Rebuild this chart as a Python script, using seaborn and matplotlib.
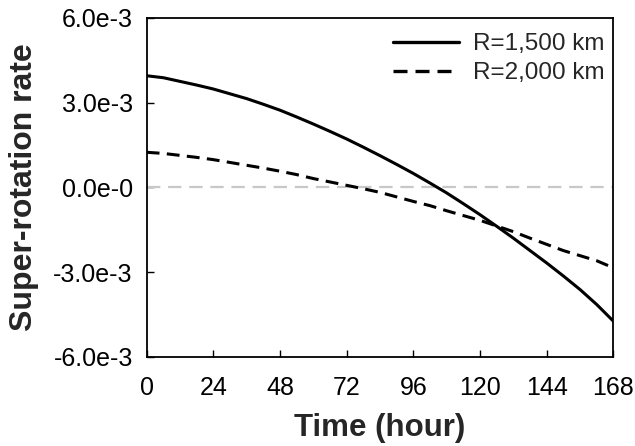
import numpy as np
import pandas as pd
import seaborn as sns
import matplotlib
matplotlib.use('Agg')
import matplotlib.pyplot as plt

hours = list(range(0, 169, 6))
r1500 = [3.95, 3.88, 3.75, 3.62, 3.48, 3.31, 3.14, 2.94, 2.73, 2.49, 2.24, 1.98, 1.71, 1.42, 1.12,
         0.81, 0.49, 0.15, -0.20, -0.58, -0.97, -1.38, -1.80, -2.24, -2.68, -3.14, -3.62, -4.15, -4.74]
r2000 = [1.24, 1.20, 1.13, 1.06, 0.98, 0.88, 0.78, 0.68, 0.57, 0.45, 0.31, 0.19, 0.07, -0.05, -0.18,
         -0.34, -0.50, -0.65, -0.83, -1.00, -1.17, -1.37, -1.57, -1.80, -2.02, -2.24, -2.42, -2.60, -2.85]
labels = ['R=1,500 km', 'R=2,000 km']
xticks = [0, 24, 48, 72, 96, 120, 144, 168]
yticks = [-6e-3, -3e-3, 0, 3e-3, 6e-3]
ytick_labels = ['-6.0e-3', '-3.0e-3', '0.0e-0', '3.0e-3', '6.0e-3']

df = pd.DataFrame({
    'hour': hours * 2,
    'rate': np.array(r1500 + r2000) * 1e-3,
    'case': [labels[0]] * len(hours) + [labels[1]] * len(hours),
})

sns.set_style('ticks')
plt.rcParams['font.family'] = ['Liberation Sans', 'DejaVu Sans']

fig = plt.figure(figsize=(6.35, 4.46), dpi=100)
ax = fig.add_axes([0.231, 0.2, 0.735, 0.76])

ax.axhline(0, color='#c8c8c8', lw=1.6, dashes=(6, 3.5), zorder=1)
sns.lineplot(data=df, x='hour', y='rate', style='case', color='black', lw=2.2,
             dashes={labels[0]: '', labels[1]: (4.2, 2.4)}, ax=ax, zorder=2)

ax.set_xlim(0, 168)
ax.set_ylim(-6e-3, 6e-3)
ax.set_xticks(xticks)
ax.set_yticks(yticks)
ax.set_yticklabels(ytick_labels)
ax.tick_params(direction='in', length=5, width=1, labelsize=18, colors='black')
ax.tick_params(axis='x', pad=14)
ax.tick_params(axis='y', pad=10)
for s in ax.spines.values():
    s.set_linewidth(1.3)
    s.set_color('black')

ax.set_xlabel('Time (hour)', fontsize=22.5, fontweight='bold', labelpad=9)
ax.set_ylabel('Super-rotation rate', fontsize=23, fontweight='bold', labelpad=10)

leg = ax.legend(loc='upper right', bbox_to_anchor=(1.0, 0.979), frameon=False, fontsize=17.5,
                handlelength=2.7, labelspacing=0.28, borderaxespad=0.0, borderpad=0.35,
                handletextpad=0.6)
for h in leg.get_lines():
    h.set_linewidth(2.4)

fig.savefig('out.png', dpi=100)
